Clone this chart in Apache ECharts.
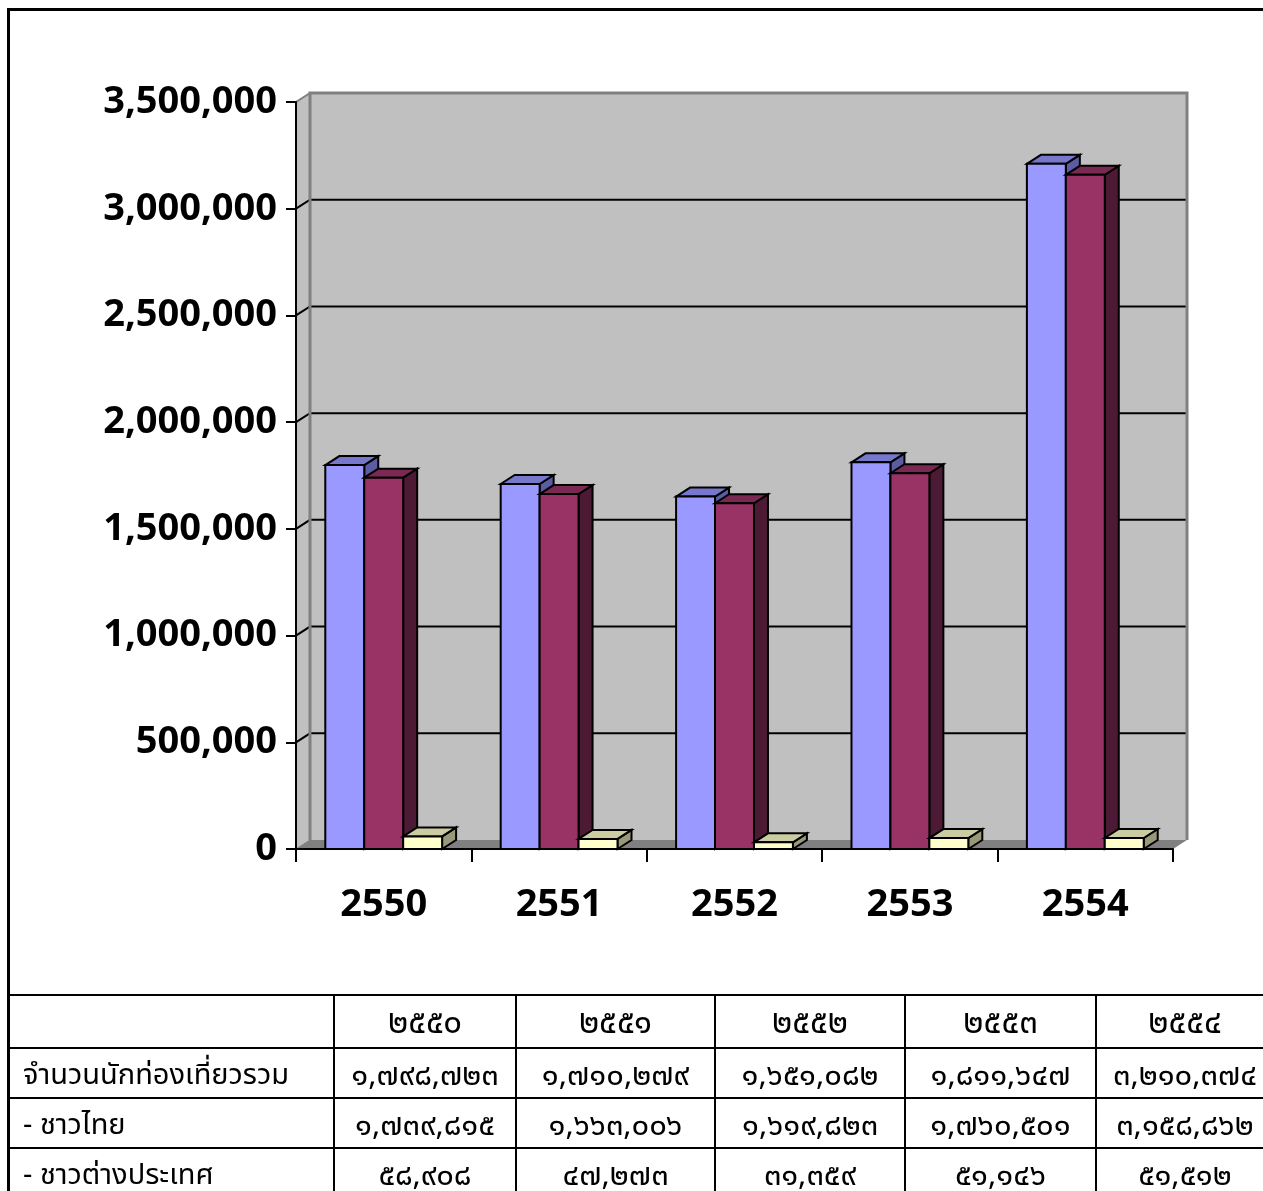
<!DOCTYPE html>
<html>
<head>
<meta charset="utf-8">
<script src="https://cdn.jsdelivr.net/npm/echarts@6/dist/echarts.min.js"></script>
<style>
  html, body { margin:0; padding:0; width:1263px; height:1191px; overflow:hidden; background:#fff; }
  #chart { position:absolute; left:0; top:0; width:1263px; height:990px; }
  #frame { position:absolute; left:7px; top:8px; width:1400px; height:1400px; border-left:3px solid #000; border-top:3px solid #000; pointer-events:none; }
  #tbl { position:absolute; left:7px; top:994px; border-collapse:collapse; table-layout:fixed; width:1266px;
         font-family:"Noto Sans Thai","Noto Sans","DejaVu Sans",sans-serif; font-size:31px; color:#000; }
  #tbl td { border:2px solid #000; padding:5px 0 0 0; text-align:center; vertical-align:middle; white-space:nowrap; overflow:hidden; line-height:1; }
  #tbl tr.hd td { font-size:33px; padding-top:4px; }
  #tbl td.lab { text-align:left; padding-left:14px; font-size:29px; }
</style>
</head>
<body>
<div id="chart"></div>
<div id="frame"></div>
<table id="tbl"></table>
<script>
// ---------------- data ----------------
const years = ['2550', '2551', '2552', '2553', '2554'];
const totalVisitors   = [1798723, 1710279, 1651082, 1811647, 3210374];
const thaiVisitors    = [1739815, 1663006, 1619823, 1760501, 3158862];
const foreignVisitors = [58908, 47273, 31359, 51146, 51512];
const rowLabels = ['จำนวนนักท่องเที่ยวรวม', '- ชาวไทย', '- ชาวต่างประเทศ'];
const yTickValues = [0, 500000, 1000000, 1500000, 2000000, 2500000, 3000000, 3500000];

// ---------------- styles ----------------
const DX = 14, DY = 9;
const BAR_FRAC = 0.222;
const Y_MAX = 3500000;
const seriesColors = [
  { front: '#9999FF', top: '#7777CC', side: '#5C5CA3' },
  { front: '#993366', top: '#7A2952', side: '#4D1A36' },
  { front: '#FFFFCC', top: '#CCCCA3', side: '#99997A' }
];

function renderWalls(params, api) {
  const cs = params.coordSys;
  const v = api.value(1);
  const y = api.coord([0, v])[1];
  const left = cs.x, right = cs.x + cs.width, top = cs.y, bottom = cs.y + cs.height;
  const ch = [];
  if (params.dataIndex === 0) {
    ch.push({ type: 'rect', shape: { x: left + DX, y: top - DY, width: cs.width, height: cs.height }, style: { fill: '#C0C0C0' } });
    ch.push({ type: 'polygon', shape: { points: [[left, bottom], [left, top], [left + DX, top - DY], [left + DX, bottom - DY]] },
              style: { fill: '#C0C0C0', stroke: '#808080', lineWidth: 1 } });
    ch.push({ type: 'polygon', shape: { points: [[left, bottom], [left + DX, bottom - DY], [right + DX, bottom - DY], [right, bottom]] },
              style: { fill: '#808080' } });
  } else if (v < Y_MAX) {
    ch.push({ type: 'polyline', shape: { points: [[left, y], [left + DX, y - DY], [right + DX, y - DY]] },
              style: { stroke: '#000', lineWidth: 2, fill: null } });
  } else {
    ch.push({ type: 'polyline', shape: { points: [[left + DX, bottom - DY], [left + DX, top - DY], [right + DX, top - DY], [right + DX, bottom - DY]] },
              style: { stroke: '#808080', lineWidth: 3, fill: null } });
    ch.push({ type: 'line', shape: { x1: left, y1: top, x2: left + DX, y2: top - DY },
              style: { stroke: '#808080', lineWidth: 2 } });
  }
  return { type: 'group', children: ch };
}

function makeBarRender(si) {
  const c = seriesColors[si];
  return function (params, api) {
    const idx = api.value(0), val = api.value(1);
    const base = api.coord([idx, 0]);
    const tp = api.coord([idx, val]);
    const band = api.size([1, 0])[0];
    const bw = band * BAR_FRAC;
    const x0 = base[0] - 1.5 * bw + si * bw;
    const yt = tp[1], yb = base[1];
    const st = { stroke: '#000', lineWidth: 2, lineJoin: 'miter' };
    return {
      type: 'group',
      children: [
        { type: 'polygon', shape: { points: [[x0 + bw, yt], [x0 + bw + DX, yt - DY], [x0 + bw + DX, yb - DY], [x0 + bw, yb]] },
          style: Object.assign({ fill: c.side }, st) },
        { type: 'polygon', shape: { points: [[x0, yt], [x0 + DX, yt - DY], [x0 + bw + DX, yt - DY], [x0 + bw, yt]] },
          style: Object.assign({ fill: c.top }, st) },
        { type: 'rect', shape: { x: x0, y: yt, width: bw, height: yb - yt },
          style: Object.assign({ fill: c.front }, st) }
      ]
    };
  };
}

const seriesData = [totalVisitors, thaiVisitors, foreignVisitors];
const fontFam = '"Open Sans", "Liberation Sans", sans-serif';

const chart = echarts.init(document.getElementById('chart'), null, { renderer: 'canvas' });
chart.setOption({
  animation: false,
  grid: { left: 296, top: 102, width: 877, height: 747, containLabel: false },
  xAxis: {
    type: 'category', data: years, boundaryGap: true, z: 10,
    axisLine: { show: true, lineStyle: { color: '#000', width: 2 } },
    axisTick: { show: true, length: 13, lineStyle: { color: '#000', width: 2 } },
    axisLabel: { color: '#000', fontFamily: fontFam, fontWeight: 'bold', fontSize: 38, margin: 37 },
    splitLine: { show: false }
  },
  yAxis: {
    type: 'value', min: 0, max: Y_MAX, interval: 500000, z: 10,
    axisLine: { show: true, lineStyle: { color: '#000', width: 2 } },
    axisTick: { show: true, length: 10, lineStyle: { color: '#000', width: 2 } },
    axisLabel: { color: '#000', fontFamily: fontFam, fontWeight: 'bold', fontSize: 38, margin: 19,
                 formatter: v => v.toLocaleString('en-US') },
    splitLine: { show: false }
  },
  series: [
    { type: 'custom', z: 1, renderItem: renderWalls, encode: { x: 0, y: 1 }, silent: true,
      data: yTickValues.map(v => [0, v]) }
  ].concat(seriesData.map((arr, si) => ({
    type: 'custom', z: 2 + si, renderItem: makeBarRender(si), encode: { x: 0, y: 1 },
    data: arr.map((v, i) => [i, v])
  })))
});

// ---------------- table ----------------
const thaiDigits = '๐๑๒๓๔๕๖๗๘๙';
function toThai(s) { return String(s).replace(/[0-9]/g, d => thaiDigits[+d]); }
const colWidths = [326, 182, 199, 190, 191, 178];
const rowHeights = [53, 50, 50, 50];
const tbl = document.getElementById('tbl');
let html = '<colgroup>' + colWidths.map(w => '<col style="width:' + w + 'px">').join('') + '</colgroup>';
html += '<tr class="hd" style="height:' + rowHeights[0] + 'px"><td class="lab"></td>' + years.map(y => '<td>' + toThai(y) + '</td>').join('') + '</tr>';
seriesData.forEach((arr, r) => {
  html += '<tr style="height:' + rowHeights[r + 1] + 'px"><td class="lab">' + rowLabels[r] + '</td>' +
          arr.map(v => '<td>' + toThai(v.toLocaleString('en-US')) + '</td>').join('') + '</tr>';
});
tbl.innerHTML = html;
</script>
</body>
</html>
